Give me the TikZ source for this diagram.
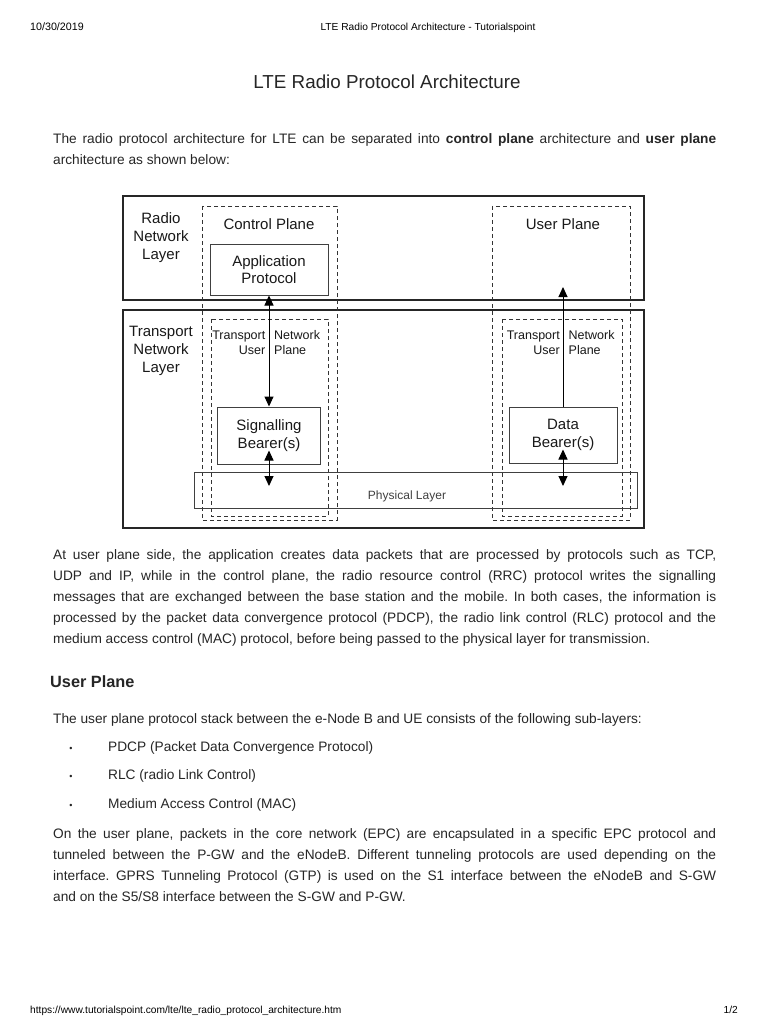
\documentclass[tikz,border=0pt]{standalone}
\usepackage{fontspec}
\setmainfont{Liberation Sans}
\usetikzlibrary{arrows.meta}
\frenchspacing

\tikzset{
  layerbox/.style={draw=black!85, line width=1.8pt},
  planebox/.style={draw=black!80, line width=0.9pt, dash pattern=on 4pt off 3pt},
  blockbox/.style={draw=black!75, line width=1pt, align=center, inner sep=0pt, text=black!90, font=\fontsize{15}{17.5}\selectfont},
  dgtext/.style={align=center, inner sep=0pt, text=black!90, font=\fontsize{15}{18}\selectfont},
  smalltext/.style={inner sep=0pt, text=black!90, font=\fontsize{12.5}{15}\selectfont},
  bodytext/.style={inner sep=0pt, text=black!85, font=\fontsize{13.7}{21}\selectfont},
  para/.style={bodytext, anchor=base west, text width=663pt, align=justify},
  pagetext/.style={inner sep=0pt, anchor=base, font=\fontsize{10.2}{13}\selectfont},
}

\begin{document}
\begin{tikzpicture}[x=1pt, y=-1pt, >={Triangle[width=9pt,length=10pt]}]
  \fill[white] (0,0) rectangle (768,1024);
  \useasboundingbox (0,0) rectangle (768,1024);

  % page header
  \node[pagetext, anchor=base west, font=\fontsize{10.7}{13}\selectfont] (date) at (30,31) {10/30/2019};
  \node[pagetext] (header) at (428,31) {LTE Radio Protocol Architecture - Tutorialspoint};
  \node[inner sep=0pt, anchor=base, text=black!85, font=\fontsize{18.8}{22}\selectfont] (title) at (387,88.5) {LTE Radio Protocol Architecture};

  \node[para] (intro) at (53,144) {The radio protocol architecture for LTE can be separated into \textbf{control plane} architecture and \textbf{user plane}\linebreak architecture as shown below:};

  % layers and planes
  \draw[layerbox] (123,196) rectangle (644,300);
  \draw[layerbox] (123,310) rectangle (644,528);
  \draw[planebox] (202,206) rectangle (337,520);
  \draw[planebox] (492,206) rectangle (630,520);
  \draw[planebox] (211,319) rectangle (328,516);
  \draw[planebox] (502,319) rectangle (622,516);

  \node[dgtext] (radiolbl) at (161,238) {Radio\\Network\\Layer};
  \node[dgtext] (translbl) at (161,351) {Transport\\Network\\Layer};
  \node[dgtext] (cplbl) at (269,224) {Control Plane};
  \node[dgtext] (uplbl) at (563,224) {User Plane};

  \node[smalltext, anchor=east, align=right] (cptnl) at (265.5,342.5) {Transport\\User};
  \node[smalltext, anchor=west, align=left] (cptnr) at (274,342.5) {Network\\Plane};
  \node[smalltext, anchor=east, align=right] (uptnl) at (560,342.5) {Transport\\User};
  \node[smalltext, anchor=west, align=left] (uptnr) at (568.5,342.5) {Network\\Plane};

  \node[blockbox, minimum width=118pt, minimum height=51pt] (appbox) at (269,269.5) {Application\\Protocol};
  \node[blockbox, minimum width=103pt, minimum height=57pt] (sigbox) at (269,435.5) {Signalling\\Bearer(s)};
  \node[blockbox, minimum width=108pt, minimum height=56pt] (databox) at (563,435) {Data\\Bearer(s)};
  \node[draw=black!75, line width=1pt, minimum width=443pt, minimum height=36pt, inner sep=0pt] (phys) at (415.5,490) {};
  \node[smalltext, text=black!75, font=\fontsize{12}{14}\selectfont] (physlbl) at (407,496) {Physical Layer};

  \coordinate (uptip) at (563,287);
  \coordinate (sigfoot) at (269,486);
  \coordinate (datafoot) at (563,486);

  \draw[<->, line width=1pt] (appbox.south) -- (sigbox.north);
  \draw[->, line width=1pt] (databox.north) -- (uptip);
  \draw[<->, line width=1pt] ([yshift=14pt]sigbox.south) -- (sigfoot);
  \draw[<->, line width=1pt] ([yshift=14pt]databox.south) -- (datafoot);

  % text below the picture
  \node[para] (para2) at (53,559) {At user plane side, the application creates data packets that are processed by protocols such as TCP,\linebreak UDP and IP, while in the control plane, the radio resource control (RRC) protocol writes the signalling\linebreak messages that are exchanged between the base station and the mobile. In both cases, the information is\linebreak processed by the packet data convergence protocol (PDCP), the radio link control (RLC) protocol and the\linebreak medium access control (MAC) protocol, before being passed to the physical layer for transmission.};

  \node[inner sep=0pt, anchor=base west, text=black!85, font=\fontsize{16.3}{19}\selectfont\bfseries] (uphead) at (50,687) {User Plane};
  \node[para] (stack) at (53,723) {The user plane protocol stack between the e-Node B and UE consists of the following sub-layers:};

  \foreach \yb/\txt [count=\i] in {751/PDCP (Packet Data Convergence Protocol), 779/RLC (radio Link Control), 808/Medium Access Control (MAC)} {
    \node[bodytext, anchor=base, font=\fontsize{9}{9}\selectfont] (dot\i) at (71,\yb) {•};
    \node[bodytext, anchor=base west] (item\i) at (108,\yb) {\txt};
  }

  \node[para] (para3) at (53,838) {On the user plane, packets in the core network (EPC) are encapsulated in a specific EPC protocol and\linebreak tunneled between the P-GW and the eNodeB. Different tunneling protocols are used depending on the\linebreak interface. GPRS Tunneling Protocol (GTP) is used on the S1 interface between the eNodeB and S-GW\linebreak and on the S5/S8 interface between the S-GW and P-GW.};

  % page footer
  \node[pagetext, anchor=base west] (url) at (30,1013) {https://www.tutorialspoint.com/lte/lte\_radio\_protocol\_architecture.htm};
  \node[pagetext, anchor=base east] (pageno) at (738,1013) {1/2};
\end{tikzpicture}
\end{document}
